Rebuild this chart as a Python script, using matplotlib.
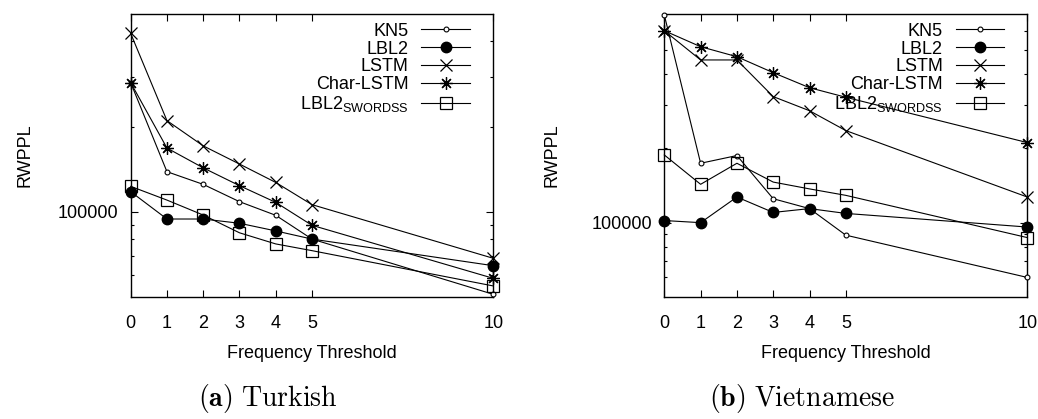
import numpy as np
import matplotlib
matplotlib.use("Agg")
import matplotlib.pyplot as plt
from matplotlib.ticker import FixedLocator, FixedFormatter, NullFormatter

plt.rcParams['font.family'] = ['Liberation Sans', 'DejaVu Sans']
plt.rcParams['mathtext.fontset'] = 'custom'
plt.rcParams['mathtext.rm'] = 'Liberation Sans'
plt.rcParams['mathtext.it'] = 'Liberation Sans:italic'
plt.rcParams['mathtext.bf'] = 'Liberation Sans:bold'

# data
thresholds = [0, 1, 2, 3, 4, 5, 10]

tr_kn5 = [286000, 138600, 125000, 108600, 97200, 80100, 51100]
tr_lbl2 = [117800, 94300, 94300, 91100, 85600, 80100, 64500]
tr_lstm = [427000, 210000, 171000, 147500, 127000, 106000, 68500]
tr_char = [286000, 168000, 143000, 123700, 108000, 89600, 58200]
tr_swordss = [123000, 110000, 97400, 84300, 77000, 72900, 54700]

vi_kn5 = [693000, 174000, 187000, 125000, 114000, 89000, 60000]
vi_lbl2 = [102000, 100000, 127000, 110000, 114000, 109000, 96000]
vi_lstm = [599000, 456000, 456000, 324000, 284000, 236000, 127000]
vi_char = [599000, 516000, 470000, 405000, 352000, 322000, 211000]
vi_swordss = [188000, 143000, 174000, 146000, 137000, 129000, 87000]

labels = ["KN5", "LBL2", "LSTM", "Char-LSTM", r"LBL2$_{\mathrm{SWORDSS}}$"]
styles = [
    dict(marker='o', ms=3.5, mfc='white', mew=0.8),
    dict(marker='o', ms=7.5, mfc='black'),
    dict(marker='x', ms=8, mew=0.9),
    dict(marker=(8, 2, 0), ms=9, mew=0.9),
    dict(marker='s', ms=8, mfc='none', mew=0.9),
]


def panel(ax, series, ylim, minors, ylab_x):
    for s, lab, st in zip(series, labels, styles):
        ax.plot(thresholds, s, color='black', lw=0.8, label=lab,
                clip_on=False, zorder=3, **st)
    ax.set_yscale('log')
    ax.set_xlim(0, 10)
    ax.set_ylim(*ylim)
    ax.set_xticks(thresholds)
    ax.set_xticklabels([str(t) for t in thresholds])
    ax.yaxis.set_major_locator(FixedLocator([100000]))
    ax.yaxis.set_major_formatter(FixedFormatter(["100000"]))
    ax.yaxis.set_minor_locator(FixedLocator(minors))
    ax.yaxis.set_minor_formatter(NullFormatter())
    ax.tick_params(which='both', direction='in', top=True, right=True,
                   labelsize=13, width=0.8)
    ax.tick_params(which='major', length=5)
    ax.tick_params(which='minor', length=2.5)
    ax.tick_params(axis='x', pad=13)
    ax.tick_params(axis='y', pad=9)
    for sp in ax.spines.values():
        sp.set_linewidth(1.0)
    ax.set_xlabel("Frequency Threshold", fontsize=13, labelpad=9)
    ax.set_ylabel("RWPPL", fontsize=13)
    ax.yaxis.set_label_coords(ylab_x, 0.5)
    ax.legend(loc='upper right', bbox_to_anchor=(0.944, 0.979), frameon=False,
              markerfirst=False, fontsize=13, handlelength=2.7,
              handletextpad=0.7, labelspacing=0.05, borderpad=0.15,
              borderaxespad=0.0)


fig = plt.figure(figsize=(10.38, 4.19), dpi=100)
ax1 = fig.add_axes([0.1259, 0.2912, 0.3493, 0.6754])
ax2 = fig.add_axes([0.6400, 0.2912, 0.3497, 0.6754])

panel(ax1, [tr_kn5, tr_lbl2, tr_lstm, tr_char, tr_swordss], (50000, 500000),
      [60000, 70000, 80000, 90000, 200000, 300000, 400000], -0.269)
panel(ax2, [vi_kn5, vi_lbl2, vi_lstm, vi_char, vi_swordss], (50000, 700000),
      [60000, 70000, 80000, 90000, 200000, 300000, 400000, 500000, 600000], -0.287)

fig.text(0.258, 0.05, r"$\mathbf{(a)}\ \mathrm{Turkish}$", ha='center', va='center',
         fontsize=20, math_fontfamily='cm')
fig.text(0.773, 0.05, r"$\mathbf{(b)}\ \mathrm{Vietnamese}$", ha='center', va='center',
         fontsize=20, math_fontfamily='cm')

fig.savefig("out.png", dpi=100)
